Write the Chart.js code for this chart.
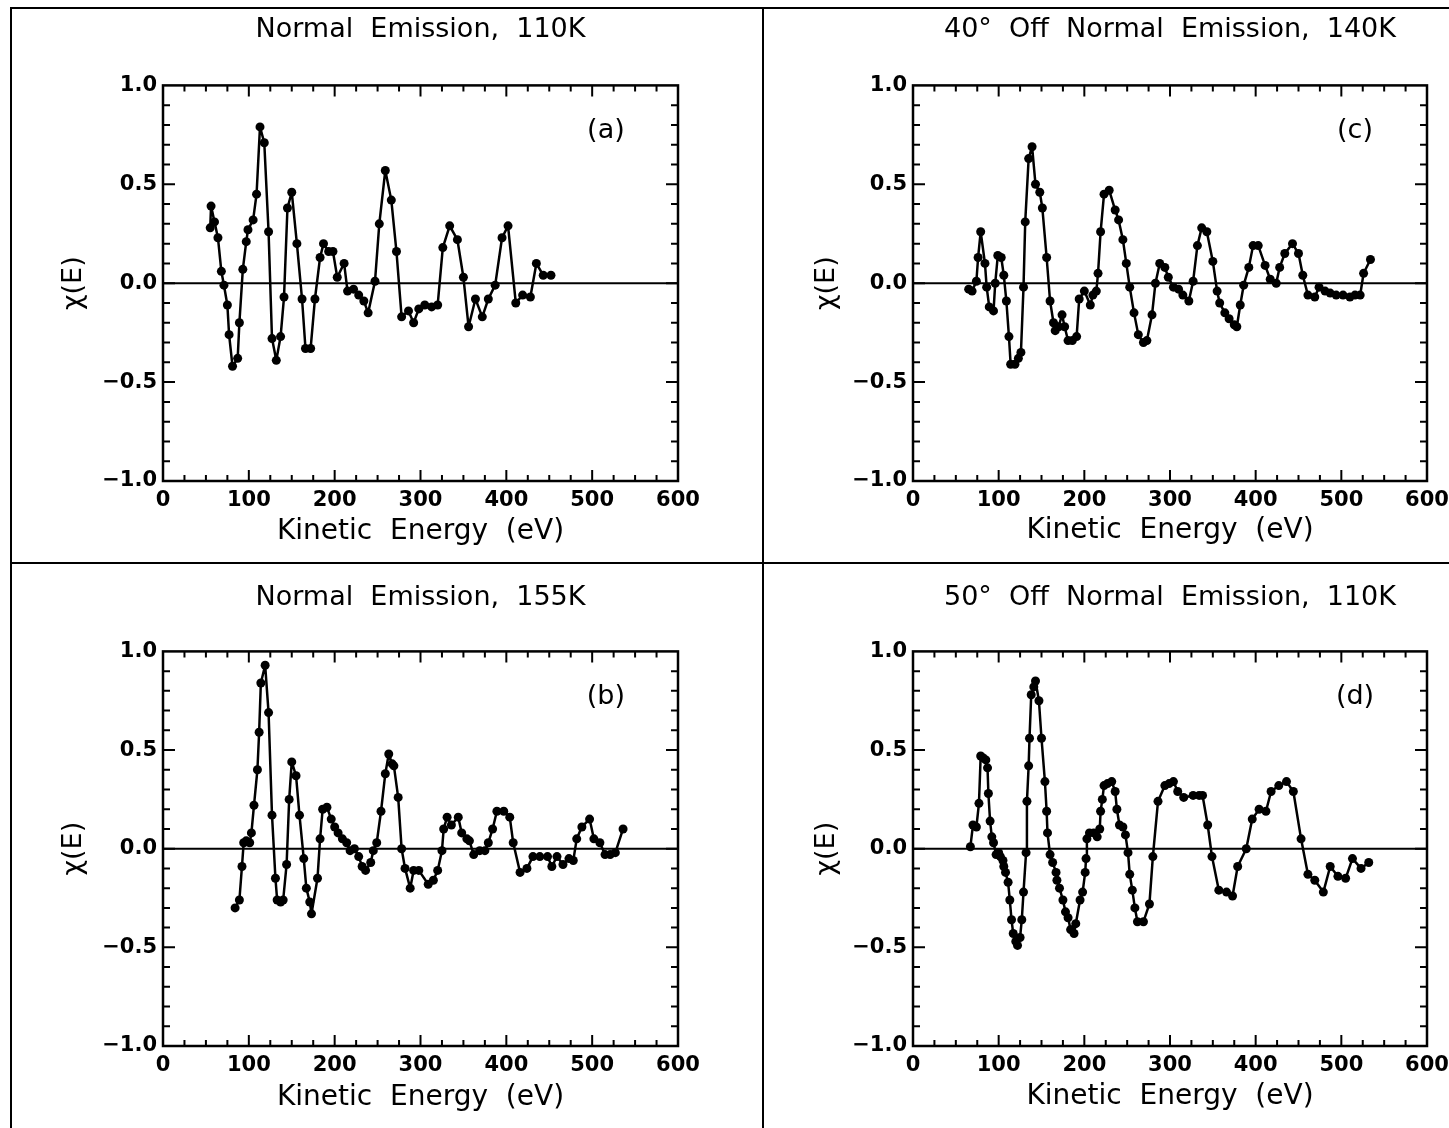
<!DOCTYPE html>
<html>
<head>
<meta charset="utf-8">
<script src="https://cdn.jsdelivr.net/npm/chart.js@4.4.1/dist/chart.umd.min.js"></script>
<style>
  body { margin: 0; background: #fff; width: 1449px; height: 1128px; overflow: hidden; position: relative; }
  .panel { position: absolute; }
  .rule { position: absolute; background: #000; z-index: 2; }
</style>
</head>
<body>
<div class="panel" style="left:0;top:0;width:763px;height:563px"><canvas id="chart-a"></canvas></div>
<div class="panel" style="left:763px;top:0;width:700px;height:563px"><canvas id="chart-c"></canvas></div>
<div class="panel" style="left:0;top:563px;width:763px;height:565px"><canvas id="chart-b"></canvas></div>
<div class="panel" style="left:763px;top:563px;width:700px;height:565px"><canvas id="chart-d"></canvas></div>
<div class="rule" style="left:10px;top:7px;width:1439px;height:2px"></div>
<div class="rule" style="left:10px;top:7px;width:2px;height:1121px"></div>
<div class="rule" style="left:762px;top:7px;width:2px;height:1121px"></div>
<div class="rule" style="left:10px;top:562px;width:1439px;height:2px"></div>
<script>
// tick labels
const xTicks = [0, 100, 200, 300, 400, 500, 600];
const xTickLabels = ['0', '100', '200', '300', '400', '500', '600'];
const yTicks = [-1, -0.5, 0, 0.5, 1];
const yTickLabels = ['\u22121.0', '\u22120.5', '0.0', '0.5', '1.0'];

// (a) Normal Emission, 110K
const aEnergy = [55,56,60,64,68,71,75,77,81,87,89,93,97,99,105,109,113,118,123,127,132,137,141,145,150,156,162,166,172,177,183,187,193,198,203,211,215,222,228,234,239,247,252,259,266,272,278,286,292,298,305,313,320,326,334,343,350,356,364,372,379,387,395,402,411,419,428,435,443,452];
const aChi = [0.28,0.39,0.31,0.23,0.06,-0.01,-0.11,-0.26,-0.42,-0.38,-0.20,0.07,0.21,0.27,0.32,0.45,0.79,0.71,0.26,-0.28,-0.39,-0.27,-0.07,0.38,0.46,0.20,-0.08,-0.33,-0.33,-0.08,0.13,0.20,0.16,0.16,0.03,0.10,-0.04,-0.03,-0.06,-0.09,-0.15,0.01,0.30,0.57,0.42,0.16,-0.17,-0.14,-0.20,-0.13,-0.11,-0.12,-0.11,0.18,0.29,0.22,0.03,-0.22,-0.08,-0.17,-0.08,-0.01,0.23,0.29,-0.10,-0.06,-0.07,0.10,0.04,0.04];

// (b) Normal Emission, 155K
const bEnergy = [84,89,92,94,97,101,103,106,110,112,114,119,123,127,131,133,137,140,144,147,150,155,159,164,167,171,173,180,183,186,191,196,200,204,209,214,218,223,228,232,236,242,245,249,254,259,263,267,269,274,278,282,288,292,298,309,315,320,325,327,331,336,344,348,354,357,362,369,375,379,384,389,397,404,408,416,424,431,439,448,453,459,466,473,478,482,488,497,502,509,515,521,527,536];
const bChi = [-0.30,-0.26,-0.09,0.03,0.04,0.03,0.08,0.22,0.40,0.59,0.84,0.93,0.69,0.17,-0.15,-0.26,-0.27,-0.26,-0.08,0.25,0.44,0.37,0.17,-0.05,-0.20,-0.27,-0.33,-0.15,0.05,0.20,0.21,0.15,0.11,0.08,0.05,0.03,-0.01,0.00,-0.04,-0.09,-0.11,-0.07,-0.01,0.03,0.19,0.38,0.48,0.43,0.42,0.26,0.00,-0.10,-0.20,-0.11,-0.11,-0.18,-0.16,-0.11,-0.01,0.10,0.16,0.12,0.16,0.08,0.05,0.04,-0.03,-0.01,-0.01,0.03,0.10,0.19,0.19,0.16,0.03,-0.12,-0.10,-0.04,-0.04,-0.04,-0.09,-0.04,-0.08,-0.05,-0.06,0.05,0.11,0.15,0.05,0.03,-0.03,-0.03,-0.02,0.10];

// (c) 40 deg off normal, 140K
const cEnergy = [65,69,74,76,79,84,86,89,94,96,99,103,106,109,112,114,119,123,126,129,131,135,139,143,148,151,156,160,164,166,170,174,177,181,186,191,194,200,207,210,214,216,219,223,229,236,240,245,249,253,258,263,269,273,279,283,288,294,298,304,310,315,322,327,332,337,343,350,355,358,364,369,375,378,382,386,392,397,403,411,417,424,428,434,443,450,455,461,469,474,481,487,494,502,510,516,522,526,534];
const cChi = [-0.03,-0.04,0.01,0.13,0.26,0.10,-0.02,-0.12,-0.14,0.00,0.14,0.13,0.04,-0.09,-0.27,-0.41,-0.41,-0.38,-0.35,-0.02,0.31,0.63,0.69,0.50,0.46,0.38,0.13,-0.09,-0.20,-0.24,-0.22,-0.16,-0.22,-0.29,-0.29,-0.27,-0.08,-0.04,-0.11,-0.06,-0.04,0.05,0.26,0.45,0.47,0.37,0.32,0.22,0.10,-0.02,-0.15,-0.26,-0.30,-0.29,-0.16,0.00,0.10,0.08,0.03,-0.02,-0.03,-0.06,-0.09,0.01,0.19,0.28,0.26,0.11,-0.04,-0.10,-0.15,-0.18,-0.21,-0.22,-0.11,-0.01,0.08,0.19,0.19,0.09,0.02,0.00,0.08,0.15,0.20,0.15,0.04,-0.06,-0.07,-0.02,-0.04,-0.05,-0.06,-0.06,-0.07,-0.06,-0.06,0.05,0.12];

// (d) 50 deg off normal, 110K
const dEnergy = [67,70,74,77,79,82,85,87,88,90,92,94,97,100,102,105,106,108,111,113,115,117,120,122,125,127,129,132,133,135,136,138,141,143,147,150,154,156,157,160,163,167,168,171,175,178,181,184,188,190,195,198,201,202,203,206,211,215,218,219,221,223,227,232,236,238,241,245,248,251,253,256,259,262,269,276,280,286,294,299,304,309,316,327,334,338,344,349,357,366,373,379,389,396,404,412,418,427,436,444,453,461,469,479,487,496,505,513,523,532];
const dChi = [0.01,0.12,0.11,0.23,0.47,0.46,0.45,0.41,0.28,0.14,0.06,0.03,-0.03,-0.02,-0.04,-0.06,-0.09,-0.12,-0.17,-0.26,-0.36,-0.43,-0.47,-0.49,-0.45,-0.36,-0.22,-0.02,0.24,0.42,0.56,0.78,0.82,0.85,0.75,0.56,0.34,0.19,0.08,-0.03,-0.07,-0.12,-0.16,-0.20,-0.26,-0.32,-0.35,-0.41,-0.43,-0.38,-0.26,-0.22,-0.12,-0.05,0.05,0.08,0.08,0.06,0.10,0.19,0.25,0.32,0.33,0.34,0.29,0.20,0.12,0.11,0.07,-0.02,-0.13,-0.21,-0.30,-0.37,-0.37,-0.28,-0.04,0.24,0.32,0.33,0.34,0.29,0.26,0.27,0.27,0.27,0.12,-0.04,-0.21,-0.22,-0.24,-0.09,0.00,0.15,0.20,0.19,0.29,0.32,0.34,0.29,0.05,-0.13,-0.16,-0.22,-0.09,-0.14,-0.15,-0.05,-0.10,-0.07];

const FONT = "'DejaVu Sans', sans-serif";

// frame, inward ticks, zero line and panel letter
const framePlugin = {
    id: 'frame',
    beforeDatasetsDraw(chart) {
        const { ctx, chartArea: a, scales: { y } } = chart;
        const y0 = y.getPixelForValue(0);
        ctx.save();
        ctx.strokeStyle = '#000';
        ctx.lineWidth = 2;
        ctx.beginPath();
        ctx.moveTo(a.left, y0);
        ctx.lineTo(a.right, y0);
        ctx.stroke();
        ctx.restore();
    },
    afterDraw(chart) {
        const { ctx, chartArea: a, scales: { x, y } } = chart;
        ctx.save();
        ctx.strokeStyle = '#000';
        ctx.lineWidth = 2.5;
        ctx.strokeRect(a.left, a.top, a.right - a.left, a.bottom - a.top);
        ctx.lineWidth = 2;
        ctx.beginPath();
        for (let v = 25; v < 600; v += 25) {
            const px = x.getPixelForValue(v);
            const len = v % 100 === 0 ? 11 : 6;
            ctx.moveTo(px, a.bottom); ctx.lineTo(px, a.bottom - len);
            ctx.moveTo(px, a.top); ctx.lineTo(px, a.top + len);
        }
        for (let i = -9; i <= 9; i++) {
            const py = y.getPixelForValue(i / 10);
            const len = i % 5 === 0 ? 12 : 7;
            ctx.moveTo(a.left, py); ctx.lineTo(a.left + len, py);
            ctx.moveTo(a.right, py); ctx.lineTo(a.right - len, py);
        }
        ctx.stroke();
        const lbl = chart.options.plugins.frame;
        ctx.fillStyle = '#000';
        ctx.font = '27px ' + FONT;
        ctx.textAlign = 'center';
        ctx.textBaseline = 'middle';
        ctx.fillText(lbl.letter, x.getPixelForValue(516), y.getPixelForValue(0.77));
        ctx.restore();
    }
};

function makePanel(id, energy, chi, cfg) {
    const ctx = document.getElementById(id);
    return new Chart(ctx, {
        type: 'scatter',
        data: {
            datasets: [{
                data: energy.map((e, i) => ({ x: e, y: chi[i] })),
                showLine: true,
                borderColor: '#000',
                backgroundColor: '#000',
                borderWidth: 2.5,
                borderJoinStyle: 'round',
                pointRadius: 4.5,
                pointBorderWidth: 0,
                tension: 0
            }]
        },
        options: {
            responsive: true,
            maintainAspectRatio: false,
            animation: false,
            events: [],
            layout: { padding: { left: 0, right: cfg.padRight, top: 0, bottom: 0 } },
            plugins: {
                legend: { display: false },
                tooltip: { enabled: false },
                title: {
                    display: true,
                    text: cfg.title,
                    fullSize: false,
                    color: '#000',
                    font: { family: FONT, size: 27, weight: 'normal', lineHeight: 1.2 },
                    padding: { top: cfg.titleTop, bottom: cfg.titleBottom }
                },
                frame: { letter: cfg.letter }
            },
            scales: {
                x: {
                    type: 'linear',
                    min: 0,
                    max: 600,
                    afterBuildTicks: s => { s.ticks = xTicks.map(v => ({ value: v })); },
                    afterFit: s => { s.height = cfg.xHeight; },
                    grid: { display: false, drawTicks: false },
                    border: { display: false },
                    ticks: {
                        color: '#000',
                        padding: 7,
                        maxRotation: 0,
                        autoSkip: false,
                        font: { family: FONT, size: 21, weight: '600' },
                        callback: (v, i) => xTickLabels[i]
                    },
                    title: {
                        display: true,
                        text: 'Kinetic  Energy  (eV)',
                        color: '#000',
                        font: { family: FONT, size: 28, weight: 'normal', lineHeight: 1.2 },
                        padding: { top: 0, bottom: cfg.xTitleBottom }
                    }
                },
                y: {
                    type: 'linear',
                    min: -1,
                    max: 1,
                    afterBuildTicks: s => { s.ticks = yTicks.map(v => ({ value: v })); },
                    afterFit: s => { s.width = cfg.yWidth; },
                    grid: { display: false, drawTicks: false },
                    border: { display: false },
                    ticks: {
                        color: '#000',
                        padding: 6,
                        autoSkip: false,
                        font: { family: FONT, size: 21, weight: '600' },
                        callback: (v, i) => yTickLabels[i]
                    },
                    title: {
                        display: true,
                        text: '\u03c7(E)',
                        color: '#000',
                        font: { family: FONT, size: 27, weight: 'normal', lineHeight: 1.2 },
                        padding: { top: cfg.yTitleTop, bottom: 0 }
                    }
                }
            }
        },
        plugins: [framePlugin]
    });
}

makePanel('chart-a', aEnergy, aChi, {
    title: 'Normal  Emission,  110K', letter: '(a)',
    padRight: 85, yWidth: 163, xHeight: 82, titleTop: 14, titleBottom: 39, xTitleBottom: 14, yTitleTop: 58
});
makePanel('chart-c', cEnergy, cChi, {
    title: '40\u00b0  Off  Normal  Emission,  140K', letter: '(c)',
    padRight: 36, yWidth: 150, xHeight: 82, titleTop: 14, titleBottom: 39, xTitleBottom: 15, yTitleTop: 48
});
makePanel('chart-b', bEnergy, bChi, {
    title: 'Normal  Emission,  155K', letter: '(b)',
    padRight: 85, yWidth: 163, xHeight: 82, titleTop: 19, titleBottom: 37, xTitleBottom: 13, yTitleTop: 58
});
makePanel('chart-d', dEnergy, dChi, {
    title: '50\u00b0  Off  Normal  Emission,  110K', letter: '(d)',
    padRight: 36, yWidth: 150, xHeight: 82, titleTop: 19, titleBottom: 37, xTitleBottom: 14, yTitleTop: 48
});
</script>
</body>
</html>
